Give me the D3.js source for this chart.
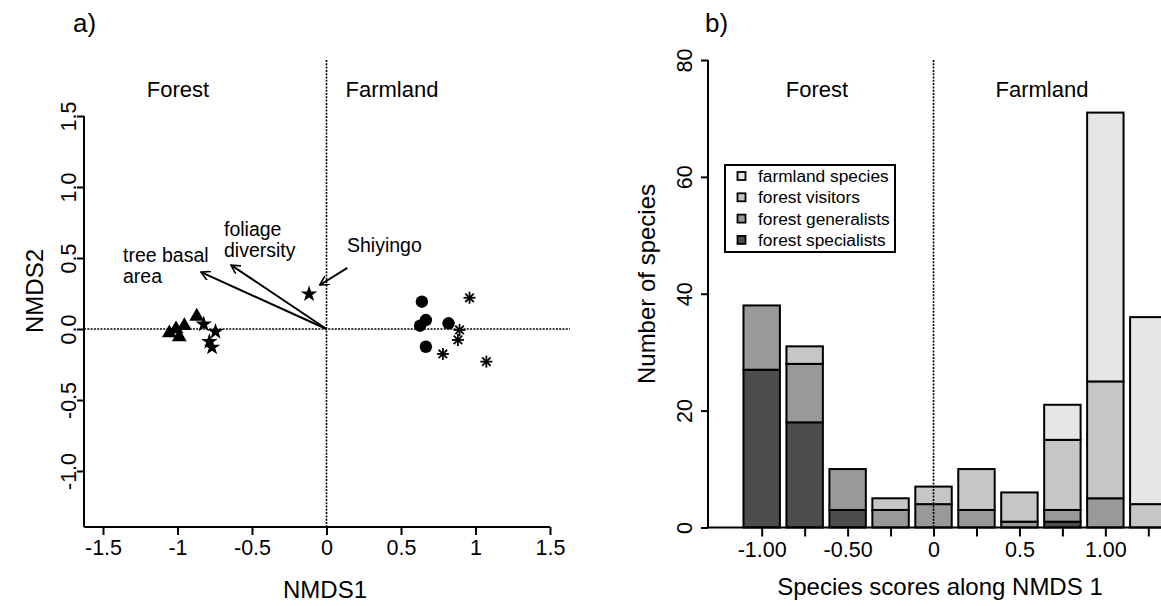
<!DOCTYPE html>
<html>
<head>
<meta charset="utf-8">
<script src="https://cdn.jsdelivr.net/npm/d3@7"></script>
<style>
  body { margin: 0; background: #fff; }
  svg { display: block; font-family: "Liberation Sans", Arial, sans-serif; }
</style>
</head>
<body>
<svg id="chart" width="1161" height="606"></svg>
<script>
// ---------------- data: panel a (NMDS site scores) ----------------
var triX = [-1.055, -1.01, -0.988, -0.954, -0.871];
var triY = [-0.035, -0.007, -0.063, 0.016, 0.082];
var starX = [-0.824, -0.745, -0.786, -0.768, -0.117];
var starY = [0.033, -0.019, -0.089, -0.129, 0.246];
var circX = [0.64, 0.667, 0.628, 0.819, 0.667];
var circY = [0.192, 0.063, 0.023, 0.040, -0.125];
var astX = [0.96, 0.893, 0.882, 0.781, 1.073];
var astY = [0.22, -0.007, -0.077, -0.176, -0.23];

// environmental vectors (tree basal area, foliage diversity start at origin)
var arrowNames = ["tree basal area", "foliage diversity", "Shiyingo"];
var arrowX0 = [0, 0, 0.14];
var arrowY0 = [0, 0, 0.43];
var arrowX1 = [-0.842, -0.64, -0.045];
var arrowY1 = [0.40, 0.45, 0.31];

var xTicksA = [-1.5, -1, -0.5, 0, 0.5, 1, 1.5];
var xLabelsA = ["-1.5", "-1", "-0.5", "0", "0.5", "1", "1.5"];
var yTicksA = [-1, -0.5, 0, 0.5, 1, 1.5];
var yLabelsA = ["-1.0", "-0.5", "0.0", "0.5", "1.0", "1.5"];

// ---------------- data: panel b (species scores histogram) ----------------
var binCenters = [-1, -0.75, -0.5, -0.25, 0, 0.25, 0.5, 0.75, 1, 1.25];
var specialists = [27, 18, 3, 0, 0, 0, 0, 1, 0, 0];
var generalists = [11, 10, 7, 3, 4, 3, 1, 2, 5, 0];
var visitors = [0, 3, 0, 2, 3, 7, 5, 12, 20, 4];
var farmland = [0, 0, 0, 0, 0, 0, 0, 6, 46, 32];
var groupNames = ["forest specialists", "forest generalists", "forest visitors", "farmland species"];
var groupColors = ["#4d4d4d", "#999999", "#c6c6c6", "#e6e6e6"];

var xTicksB = [-1, -0.75, -0.5, -0.25, 0, 0.25, 0.5, 0.75, 1, 1.25];
var xLabelsB = ["-1.00", "", "-0.50", "", "0", "", "0.5", "", "1.00", ""];
var yTicksB = [0, 20, 40, 60, 80];

var svg = d3.select("#chart");
var TICK = 21.5, TITLE = 24, SIDE = 22;

// ======================= panel a =======================
var xA = d3.scaleLinear().domain([-1.5, 1.5]).range([103, 550]);
var yA = d3.scaleLinear().domain([-1, 1.5]).range([471, 116]);
var a = svg.append("g");

// reference lines
a.append("line").attr("x1", 84).attr("x2", 570).attr("y1", yA(0)).attr("y2", yA(0))
  .attr("stroke", "#000").attr("stroke-width", 1.6).attr("stroke-dasharray", "2,1.3");
a.append("line").attr("x1", xA(0)).attr("x2", xA(0)).attr("y1", 60).attr("y2", 527)
  .attr("stroke", "#000").attr("stroke-width", 1.6).attr("stroke-dasharray", "2,1.3");

// axes
a.append("line").attr("x1", 84).attr("x2", xA(1.5)).attr("y1", 527).attr("y2", 527)
  .attr("stroke", "#000").attr("stroke-width", 2);
a.append("line").attr("x1", 84).attr("x2", 84).attr("y1", yA(1.5)).attr("y2", 527)
  .attr("stroke", "#000").attr("stroke-width", 2);

var xAxisA = d3.axisBottom(xA).tickValues(xTicksA).tickSize(8).tickSizeOuter(0)
  .tickFormat(function(d, i) { return xLabelsA[i]; });
var gxa = a.append("g").attr("transform", "translate(0,527)").call(xAxisA);
gxa.select(".domain").remove();
gxa.selectAll(".tick line").attr("stroke-width", 2);
gxa.selectAll(".tick text").attr("font-size", TICK).attr("font-family", null)
  .attr("y", 0).attr("dy", null).attr("transform", "translate(0,28)");

var yAxisA = d3.axisLeft(yA).tickValues(yTicksA).tickSize(7).tickSizeOuter(0)
  .tickFormat(function(d, i) { return yLabelsA[i]; });
var gya = a.append("g").attr("transform", "translate(84,0)").call(yAxisA);
gya.select(".domain").remove();
gya.selectAll(".tick line").attr("stroke-width", 2);
gya.selectAll(".tick text").attr("font-size", TICK).attr("font-family", null)
  .attr("x", 0).attr("dy", null).attr("text-anchor", "middle")
  .attr("transform", "translate(-8,0) rotate(-90)");

// markers
a.selectAll(".tri").data(triX).join("path").attr("class", "tri")
  .attr("d", d3.symbol(d3.symbolTriangle, 95))
  .attr("transform", function(d, i) { return "translate(" + xA(d) + "," + (yA(triY[i]) - 1) + ")"; })
  .attr("fill", "#000");
a.selectAll(".star").data(starX).join("path").attr("class", "star")
  .attr("d", d3.symbol(d3.symbolStar, 85))
  .attr("transform", function(d, i) { return "translate(" + xA(d) + "," + yA(starY[i]) + ")"; })
  .attr("fill", "#000");
a.selectAll(".circ").data(circX).join("circle").attr("class", "circ")
  .attr("cx", function(d) { return xA(d); })
  .attr("cy", function(d, i) { return yA(circY[i]); })
  .attr("r", 6.2).attr("fill", "#000");
a.selectAll(".ast").data(astX).join("g").attr("class", "ast")
  .attr("transform", function(d, i) { return "translate(" + xA(d) + "," + yA(astY[i]) + ")"; })
  .each(function() {
    var g = d3.select(this);
    [0, 45, 90, 135].forEach(function(ang) {
      g.append("line").attr("x1", -6).attr("x2", 6).attr("y1", 0).attr("y2", 0)
        .attr("transform", "rotate(" + ang + ")")
        .attr("stroke", "#000").attr("stroke-width", 1.8);
    });
  });

// arrows
svg.append("defs").append("marker").attr("id", "head")
  .attr("viewBox", "0 0 10 10").attr("refX", 9).attr("refY", 5)
  .attr("markerWidth", 5).attr("markerHeight", 5).attr("orient", "auto")
  .append("path").attr("d", "M0,0 L9,5 L0,10").attr("fill", "none")
  .attr("stroke", "#000").attr("stroke-width", 1.6);
a.selectAll(".arrow").data(arrowNames).join("line").attr("class", "arrow")
  .attr("x1", function(d, i) { return xA(arrowX0[i]); })
  .attr("y1", function(d, i) { return yA(arrowY0[i]); })
  .attr("x2", function(d, i) { return xA(arrowX1[i]); })
  .attr("y2", function(d, i) { return yA(arrowY1[i]); })
  .attr("stroke", "#000").attr("stroke-width", 2).attr("marker-end", "url(#head)");

function label(g, x, y, lines, size, anchor) {
  var t = g.append("text").attr("x", x).attr("y", y).attr("font-size", size)
    .attr("text-anchor", anchor || "start");
  lines.forEach(function(s, i) {
    t.append("tspan").attr("x", x).attr("dy", i === 0 ? 0 : size * 1.08).text(s);
  });
}
label(a, 123, 262, ["tree basal", "area"], 19.5);
label(a, 224, 236, ["foliage", "diversity"], 19.5);
label(a, 347, 252, ["Shiyingo"], 19.5);

a.append("text").attr("x", 178).attr("y", 97).attr("text-anchor", "middle")
  .attr("font-size", SIDE).text("Forest");
a.append("text").attr("x", 392).attr("y", 97).attr("text-anchor", "middle")
  .attr("font-size", SIDE).text("Farmland");
a.append("text").attr("x", 73).attr("y", 32).attr("font-size", 26).text("a)");
a.append("text").attr("x", 325).attr("y", 598).attr("text-anchor", "middle")
  .attr("font-size", TITLE).text("NMDS1");
a.append("text").attr("transform", "translate(43,291) rotate(-90)")
  .attr("text-anchor", "middle").attr("font-size", TITLE).text("NMDS2");

// ======================= panel b =======================
var xB = d3.scaleLinear().domain([-1, 1.25]).range([761.7, 1148.3]);
var yB = d3.scaleLinear().domain([0, 80]).range([527.5, 60]);
var b = svg.append("g");
var barW = xB(0.212) - xB(0);

var stacked = d3.stack().keys([0, 1, 2, 3]).value(function(d, k) { return d.v[k]; })(
  binCenters.map(function(c, i) {
    return { c: c, v: [specialists[i], generalists[i], visitors[i], farmland[i]] };
  })
);
stacked.forEach(function(layer, k) {
  b.selectAll(".bar" + k).data(layer.filter(function(d) { return d[1] > d[0]; }))
    .join("rect").attr("class", "bar" + k)
    .attr("x", function(d) { return xB(d.data.c) - barW / 2; })
    .attr("width", barW)
    .attr("y", function(d) { return yB(d[1]); })
    .attr("height", function(d) { return yB(d[0]) - yB(d[1]); })
    .attr("fill", groupColors[k]).attr("stroke", "#000").attr("stroke-width", 2);
});

b.append("line").attr("x1", xB(0)).attr("x2", xB(0)).attr("y1", 60).attr("y2", 527)
  .attr("stroke", "#000").attr("stroke-width", 1.6).attr("stroke-dasharray", "2,1.3");

b.append("line").attr("x1", 708).attr("x2", 1161).attr("y1", 527.5).attr("y2", 527.5)
  .attr("stroke", "#000").attr("stroke-width", 2);
b.append("line").attr("x1", 708).attr("x2", 708).attr("y1", yB(80)).attr("y2", 527.5)
  .attr("stroke", "#000").attr("stroke-width", 2);

var xAxisB = d3.axisBottom(xB).tickValues(xTicksB).tickSize(9).tickSizeOuter(0)
  .tickFormat(function(d, i) { return xLabelsB[i]; });
var gxb = b.append("g").attr("transform", "translate(0,527.5)").call(xAxisB);
gxb.select(".domain").remove();
gxb.selectAll(".tick line").attr("stroke-width", 2);
gxb.selectAll(".tick text").attr("font-size", TICK).attr("font-family", null)
  .attr("y", 0).attr("dy", null).attr("transform", "translate(0,29)");

var yAxisB = d3.axisLeft(yB).tickValues(yTicksB).tickSize(7).tickSizeOuter(0);
var gyb = b.append("g").attr("transform", "translate(708,0)").call(yAxisB);
gyb.select(".domain").remove();
gyb.selectAll(".tick line").attr("stroke-width", 2);
gyb.selectAll(".tick text").attr("font-size", TICK).attr("font-family", null)
  .attr("x", 0).attr("dy", null).attr("text-anchor", "middle")
  .attr("transform", "translate(-16,0) rotate(-90)");

// legend
var lg = b.append("g").attr("transform", "translate(725,165)");
lg.append("rect").attr("width", 170).attr("height", 87).attr("fill", "#fff")
  .attr("stroke", "#000").attr("stroke-width", 2);
var legendOrder = [3, 2, 1, 0];
legendOrder.forEach(function(k, i) {
  var cy = 11 + i * 21.3;
  lg.append("rect").attr("x", 12.5).attr("y", cy - 4).attr("width", 8).attr("height", 8)
    .attr("fill", groupColors[k]).attr("stroke", "#000").attr("stroke-width", 1.8);
  lg.append("text").attr("x", 33).attr("y", cy + 6).attr("font-size", 17.3).text(groupNames[k]);
});

b.append("text").attr("x", 817).attr("y", 97).attr("text-anchor", "middle")
  .attr("font-size", SIDE).text("Forest");
b.append("text").attr("x", 1042).attr("y", 97).attr("text-anchor", "middle")
  .attr("font-size", SIDE).text("Farmland");
b.append("text").attr("x", 705).attr("y", 32).attr("font-size", 26).text("b)");
b.append("text").attr("x", 940).attr("y", 595).attr("text-anchor", "middle")
  .attr("font-size", TITLE).text("Species scores along NMDS 1");
b.append("text").attr("transform", "translate(655,284) rotate(-90)")
  .attr("text-anchor", "middle").attr("font-size", TITLE).text("Number of species");
</script>
</body>
</html>
